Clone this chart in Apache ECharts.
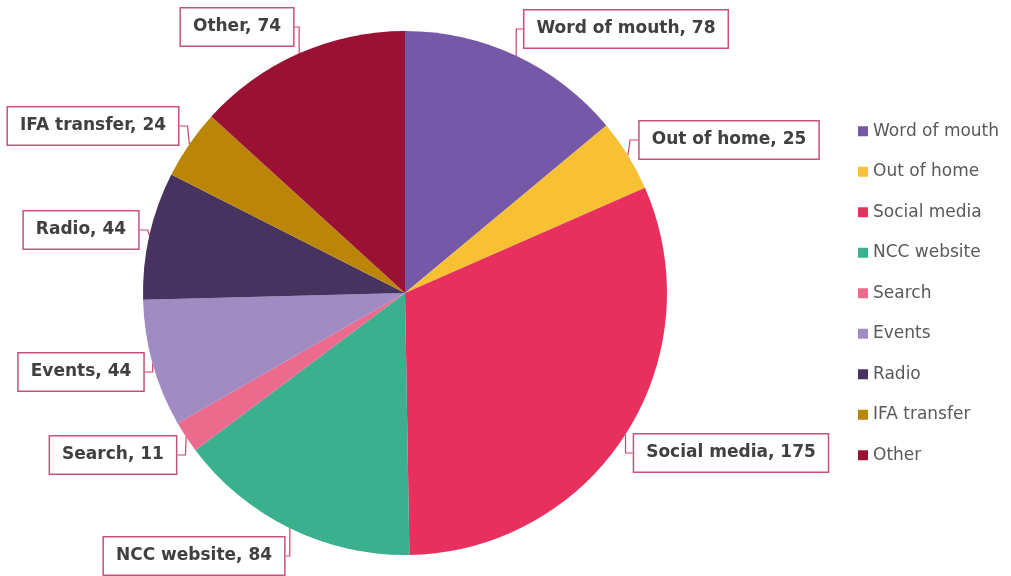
<!DOCTYPE html>
<html>
<head>
<meta charset="utf-8">
<script src="https://cdn.jsdelivr.net/npm/echarts@6/dist/echarts.min.js"></script>
<style>
  html, body { margin: 0; padding: 0; background: #ffffff; }
  #chart { width: 1011px; height: 576px; }
</style>
</head>
<body>
<div id="chart"></div>
<script>
// Enquiry sources and their counts
const categories = ['Word of mouth', 'Out of home', 'Social media', 'NCC website', 'Search', 'Events', 'Radio', 'IFA transfer', 'Other'];
const values = [78, 25, 175, 84, 11, 44, 44, 24, 74];
const colors = ['#7559a8', '#f8c133', '#e8305f', '#3bb08f', '#ec6a8c', '#a08bc3', '#47335f', '#bb8607', '#9b1133'];

// Callout box centres for each slice label
const calloutPos = [
  [626, 29], [729, 140], [731, 453], [194, 556], [113, 455],
  [81, 372], [81, 230], [93, 126], [237, 27]
];

const chart = echarts.init(document.getElementById('chart'));

chart.setOption({
  backgroundColor: '#ffffff',
  animation: false,
  color: colors,
  legend: {
    orient: 'vertical',
    left: 853,
    top: 116,
    itemWidth: 10,
    itemHeight: 10,
    itemGap: 20,
    icon: 'rect',
    textStyle: { color: '#595959', fontSize: 17, fontFamily: 'DejaVu Sans', lineHeight: 20.5 },
    data: categories
  },
  series: [{
    type: 'pie',
    center: [405, 293],
    radius: 262,
    startAngle: 90,
    clockwise: true,
    avoidLabelOverlap: false,
    itemStyle: { borderWidth: 0 },
    data: categories.map((name, i) => ({ name, value: values[i] })),
    label: {
      show: true,
      position: 'outside',
      formatter: p => p.name + ', ' + p.value,
      color: '#404040',
      fontFamily: 'DejaVu Sans',
      fontWeight: 'bold',
      fontSize: 17,
      backgroundColor: '#ffffff',
      borderColor: '#c8507f',
      borderWidth: 1.5,
      padding: [10, 12]
    },
    labelLine: {
      show: true,
      length: 8,
      length2: 8,
      lineStyle: { color: '#d2406f', width: 1.2 }
    },
    labelLayout: params => ({
      x: calloutPos[params.dataIndex][0],
      y: calloutPos[params.dataIndex][1],
      align: 'center',
      verticalAlign: 'middle'
    })
  }]
});
</script>
</body>
</html>
